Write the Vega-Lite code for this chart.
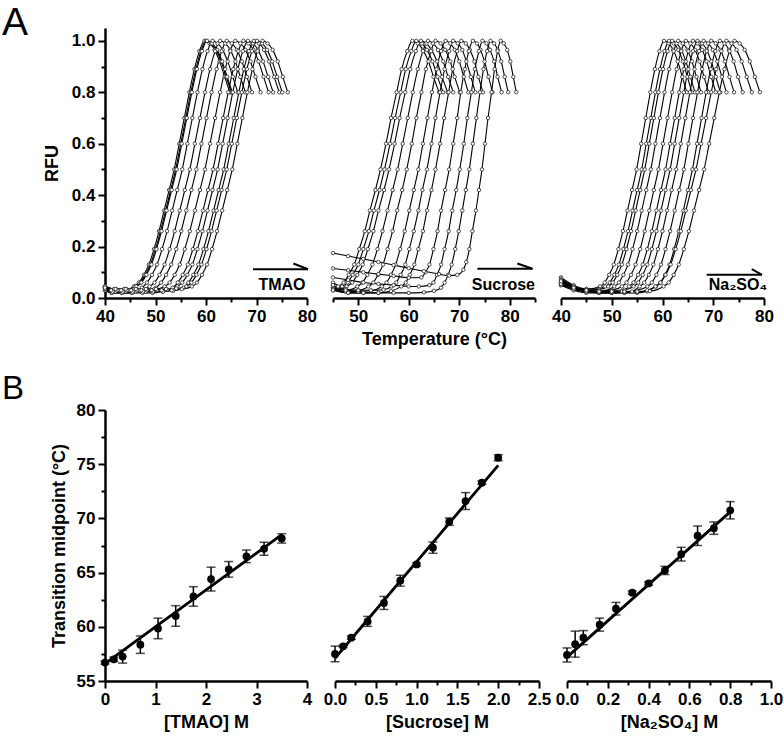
{
"$schema":"https://vega.github.io/schema/vega-lite/v6.json",
"background":"white",
"padding":{"left":2,"top":4,"right":2,"bottom":2},
"spacing":25,
"config":{"view":{"stroke":null},"font":"Liberation Sans",
 "axis":{"grid":false,"domain":true,"ticks":true,"domainColor":"#000000","domainWidth":2.5,"domainOpacity":1,"tickColor":"#000000","tickWidth":2,"tickOpacity":1,"tickSize":6,"labelFont":"Liberation Sans","labelFontSize":17,"labelFontWeight":"bold","labelColor":"black","titleFont":"Liberation Sans","titleFontSize":18,"titleFontWeight":"bold","titleColor":"black","labelPadding":3,"labelFlush":false,"labelOverlap":false,"labelBound":false,"zindex":2},
 "title":{"font":"Liberation Sans","fontWeight":"normal","color":"black","anchor":"start","frame":"group"}},
"datasets":{
"melt":[
{"p":"T","c":1,"t":40,"f":0.04},{"p":"T","c":1,"t":41.7,"f":0.03},{"p":"T","c":1,"t":43.7,"f":0.03},{"p":"T","c":1,"t":45.7,"f":0.045},{"p":"T","c":1,"t":46.7,"f":0.06},{"p":"T","c":1,"t":47.7,"f":0.09},{"p":"T","c":1,"t":48.7,"f":0.13},{"p":"T","c":1,"t":49.7,"f":0.19},{"p":"T","c":1,"t":50.7,"f":0.26},{"p":"T","c":1,"t":51.7,"f":0.34},{"p":"T","c":1,"t":52.7,"f":0.42},{"p":"T","c":1,"t":53.7,"f":0.5},{"p":"T","c":1,"t":54.7,"f":0.6},{"p":"T","c":1,"t":55.7,"f":0.7},{"p":"T","c":1,"t":56.7,"f":0.8},{"p":"T","c":1,"t":57.7,"f":0.89},{"p":"T","c":1,"t":58.7,"f":0.96},{"p":"T","c":1,"t":59.7,"f":1},{"p":"T","c":1,"t":60.7,"f":0.99},{"p":"T","c":1,"t":61.7,"f":0.965},{"p":"T","c":1,"t":62.7,"f":0.92},{"p":"T","c":1,"t":63.7,"f":0.86},{"p":"T","c":1,"t":64.7,"f":0.8},
{"p":"T","c":2,"t":40,"f":0.035},{"p":"T","c":2,"t":42,"f":0.025},{"p":"T","c":2,"t":44,"f":0.025},{"p":"T","c":2,"t":46,"f":0.045},{"p":"T","c":2,"t":47,"f":0.06},{"p":"T","c":2,"t":48,"f":0.09},{"p":"T","c":2,"t":49,"f":0.13},{"p":"T","c":2,"t":50,"f":0.19},{"p":"T","c":2,"t":51,"f":0.26},{"p":"T","c":2,"t":52,"f":0.34},{"p":"T","c":2,"t":53,"f":0.42},{"p":"T","c":2,"t":54,"f":0.5},{"p":"T","c":2,"t":55,"f":0.6},{"p":"T","c":2,"t":56,"f":0.7},{"p":"T","c":2,"t":57,"f":0.8},{"p":"T","c":2,"t":58,"f":0.89},{"p":"T","c":2,"t":59,"f":0.96},{"p":"T","c":2,"t":60,"f":1},{"p":"T","c":2,"t":61,"f":0.99},{"p":"T","c":2,"t":62,"f":0.965},{"p":"T","c":2,"t":63,"f":0.92},{"p":"T","c":2,"t":64,"f":0.86},{"p":"T","c":2,"t":65,"f":0.8},
{"p":"T","c":3,"t":40,"f":0.045},{"p":"T","c":3,"t":42.2,"f":0.035},{"p":"T","c":3,"t":44.2,"f":0.035},{"p":"T","c":3,"t":46.2,"f":0.045},{"p":"T","c":3,"t":47.2,"f":0.06},{"p":"T","c":3,"t":48.2,"f":0.09},{"p":"T","c":3,"t":49.2,"f":0.13},{"p":"T","c":3,"t":50.2,"f":0.19},{"p":"T","c":3,"t":51.2,"f":0.26},{"p":"T","c":3,"t":52.2,"f":0.34},{"p":"T","c":3,"t":53.2,"f":0.42},{"p":"T","c":3,"t":54.2,"f":0.5},{"p":"T","c":3,"t":55.2,"f":0.6},{"p":"T","c":3,"t":56.2,"f":0.7},{"p":"T","c":3,"t":57.2,"f":0.8},{"p":"T","c":3,"t":58.2,"f":0.89},{"p":"T","c":3,"t":59.2,"f":0.96},{"p":"T","c":3,"t":60.2,"f":1},{"p":"T","c":3,"t":61.2,"f":0.99},{"p":"T","c":3,"t":62.2,"f":0.965},{"p":"T","c":3,"t":63.2,"f":0.92},{"p":"T","c":3,"t":64.2,"f":0.86},{"p":"T","c":3,"t":65.2,"f":0.8},
{"p":"T","c":4,"t":40,"f":0.03},{"p":"T","c":4,"t":41.3,"f":0.02},{"p":"T","c":4,"t":43.3,"f":0.02},{"p":"T","c":4,"t":45.3,"f":0.02},{"p":"T","c":4,"t":47.3,"f":0.04},{"p":"T","c":4,"t":48.3,"f":0.06},{"p":"T","c":4,"t":49.3,"f":0.09},{"p":"T","c":4,"t":50.3,"f":0.13},{"p":"T","c":4,"t":51.3,"f":0.19},{"p":"T","c":4,"t":52.3,"f":0.26},{"p":"T","c":4,"t":53.3,"f":0.34},{"p":"T","c":4,"t":54.3,"f":0.42},{"p":"T","c":4,"t":55.3,"f":0.5},{"p":"T","c":4,"t":56.3,"f":0.6},{"p":"T","c":4,"t":57.3,"f":0.7},{"p":"T","c":4,"t":58.3,"f":0.8},{"p":"T","c":4,"t":59.3,"f":0.89},{"p":"T","c":4,"t":60.3,"f":0.96},{"p":"T","c":4,"t":61.3,"f":1},{"p":"T","c":4,"t":62.3,"f":0.99},{"p":"T","c":4,"t":63.3,"f":0.965},{"p":"T","c":4,"t":64.3,"f":0.92},{"p":"T","c":4,"t":65.3,"f":0.86},{"p":"T","c":4,"t":66.3,"f":0.8},
{"p":"T","c":5,"t":40,"f":0.04},{"p":"T","c":5,"t":42.8,"f":0.03},{"p":"T","c":5,"t":44.8,"f":0.03},{"p":"T","c":5,"t":46.8,"f":0.03},{"p":"T","c":5,"t":48.8,"f":0.045},{"p":"T","c":5,"t":49.8,"f":0.06},{"p":"T","c":5,"t":50.8,"f":0.09},{"p":"T","c":5,"t":51.8,"f":0.13},{"p":"T","c":5,"t":52.8,"f":0.19},{"p":"T","c":5,"t":53.8,"f":0.26},{"p":"T","c":5,"t":54.8,"f":0.34},{"p":"T","c":5,"t":55.8,"f":0.42},{"p":"T","c":5,"t":56.8,"f":0.5},{"p":"T","c":5,"t":57.8,"f":0.6},{"p":"T","c":5,"t":58.8,"f":0.7},{"p":"T","c":5,"t":59.8,"f":0.8},{"p":"T","c":5,"t":60.8,"f":0.89},{"p":"T","c":5,"t":61.8,"f":0.96},{"p":"T","c":5,"t":62.8,"f":1},{"p":"T","c":5,"t":63.8,"f":0.99},{"p":"T","c":5,"t":64.8,"f":0.965},{"p":"T","c":5,"t":65.8,"f":0.92},{"p":"T","c":5,"t":66.8,"f":0.86},{"p":"T","c":5,"t":67.8,"f":0.8},
{"p":"T","c":6,"t":40,"f":0.035},{"p":"T","c":6,"t":42.1,"f":0.025},{"p":"T","c":6,"t":44.1,"f":0.025},{"p":"T","c":6,"t":46.1,"f":0.025},{"p":"T","c":6,"t":48.1,"f":0.025},{"p":"T","c":6,"t":50.1,"f":0.04},{"p":"T","c":6,"t":51.1,"f":0.06},{"p":"T","c":6,"t":52.1,"f":0.09},{"p":"T","c":6,"t":53.1,"f":0.13},{"p":"T","c":6,"t":54.1,"f":0.19},{"p":"T","c":6,"t":55.1,"f":0.26},{"p":"T","c":6,"t":56.1,"f":0.34},{"p":"T","c":6,"t":57.1,"f":0.42},{"p":"T","c":6,"t":58.1,"f":0.5},{"p":"T","c":6,"t":59.1,"f":0.6},{"p":"T","c":6,"t":60.1,"f":0.7},{"p":"T","c":6,"t":61.1,"f":0.8},{"p":"T","c":6,"t":62.1,"f":0.89},{"p":"T","c":6,"t":63.1,"f":0.96},{"p":"T","c":6,"t":64.1,"f":1},{"p":"T","c":6,"t":65.1,"f":0.99},{"p":"T","c":6,"t":66.1,"f":0.965},{"p":"T","c":6,"t":67.1,"f":0.92},{"p":"T","c":6,"t":68.1,"f":0.86},{"p":"T","c":6,"t":69.1,"f":0.8},
{"p":"T","c":7,"t":40,"f":0.045},{"p":"T","c":7,"t":41.8,"f":0.035},{"p":"T","c":7,"t":43.8,"f":0.035},{"p":"T","c":7,"t":45.8,"f":0.035},{"p":"T","c":7,"t":47.8,"f":0.035},{"p":"T","c":7,"t":49.8,"f":0.035},{"p":"T","c":7,"t":51.8,"f":0.045},{"p":"T","c":7,"t":52.8,"f":0.06},{"p":"T","c":7,"t":53.8,"f":0.09},{"p":"T","c":7,"t":54.8,"f":0.13},{"p":"T","c":7,"t":55.8,"f":0.19},{"p":"T","c":7,"t":56.8,"f":0.26},{"p":"T","c":7,"t":57.8,"f":0.34},{"p":"T","c":7,"t":58.8,"f":0.42},{"p":"T","c":7,"t":59.8,"f":0.5},{"p":"T","c":7,"t":60.8,"f":0.6},{"p":"T","c":7,"t":61.8,"f":0.7},{"p":"T","c":7,"t":62.8,"f":0.8},{"p":"T","c":7,"t":63.8,"f":0.89},{"p":"T","c":7,"t":64.8,"f":0.96},{"p":"T","c":7,"t":65.8,"f":1},{"p":"T","c":7,"t":66.8,"f":0.99},{"p":"T","c":7,"t":67.8,"f":0.965},{"p":"T","c":7,"t":68.8,"f":0.92},{"p":"T","c":7,"t":69.8,"f":0.86},{"p":"T","c":7,"t":70.8,"f":0.8},
{"p":"T","c":8,"t":40,"f":0.03},{"p":"T","c":8,"t":41.4,"f":0.02},{"p":"T","c":8,"t":43.4,"f":0.02},{"p":"T","c":8,"t":45.4,"f":0.02},{"p":"T","c":8,"t":47.4,"f":0.02},{"p":"T","c":8,"t":49.4,"f":0.02},{"p":"T","c":8,"t":51.4,"f":0.025},{"p":"T","c":8,"t":53.4,"f":0.04},{"p":"T","c":8,"t":54.4,"f":0.06},{"p":"T","c":8,"t":55.4,"f":0.09},{"p":"T","c":8,"t":56.4,"f":0.13},{"p":"T","c":8,"t":57.4,"f":0.19},{"p":"T","c":8,"t":58.4,"f":0.26},{"p":"T","c":8,"t":59.4,"f":0.34},{"p":"T","c":8,"t":60.4,"f":0.42},{"p":"T","c":8,"t":61.4,"f":0.5},{"p":"T","c":8,"t":62.4,"f":0.6},{"p":"T","c":8,"t":63.4,"f":0.7},{"p":"T","c":8,"t":64.4,"f":0.8},{"p":"T","c":8,"t":65.4,"f":0.89},{"p":"T","c":8,"t":66.4,"f":0.96},{"p":"T","c":8,"t":67.4,"f":1},{"p":"T","c":8,"t":68.4,"f":0.99},{"p":"T","c":8,"t":69.4,"f":0.965},{"p":"T","c":8,"t":70.4,"f":0.92},{"p":"T","c":8,"t":71.4,"f":0.86},{"p":"T","c":8,"t":72.4,"f":0.8},
{"p":"T","c":9,"t":40,"f":0.04},{"p":"T","c":9,"t":42.3,"f":0.03},{"p":"T","c":9,"t":44.3,"f":0.03},{"p":"T","c":9,"t":46.3,"f":0.03},{"p":"T","c":9,"t":48.3,"f":0.03},{"p":"T","c":9,"t":50.3,"f":0.03},{"p":"T","c":9,"t":52.3,"f":0.033},{"p":"T","c":9,"t":54.3,"f":0.045},{"p":"T","c":9,"t":55.3,"f":0.06},{"p":"T","c":9,"t":56.3,"f":0.09},{"p":"T","c":9,"t":57.3,"f":0.13},{"p":"T","c":9,"t":58.3,"f":0.19},{"p":"T","c":9,"t":59.3,"f":0.26},{"p":"T","c":9,"t":60.3,"f":0.34},{"p":"T","c":9,"t":61.3,"f":0.42},{"p":"T","c":9,"t":62.3,"f":0.5},{"p":"T","c":9,"t":63.3,"f":0.6},{"p":"T","c":9,"t":64.3,"f":0.7},{"p":"T","c":9,"t":65.3,"f":0.8},{"p":"T","c":9,"t":66.3,"f":0.89},{"p":"T","c":9,"t":67.3,"f":0.96},{"p":"T","c":9,"t":68.3,"f":1},{"p":"T","c":9,"t":69.3,"f":0.99},{"p":"T","c":9,"t":70.3,"f":0.965},{"p":"T","c":9,"t":71.3,"f":0.92},{"p":"T","c":9,"t":72.3,"f":0.86},{"p":"T","c":9,"t":73.3,"f":0.8},
{"p":"T","c":10,"t":40,"f":0.035},{"p":"T","c":10,"t":41.5,"f":0.025},{"p":"T","c":10,"t":43.5,"f":0.025},{"p":"T","c":10,"t":45.5,"f":0.025},{"p":"T","c":10,"t":47.5,"f":0.025},{"p":"T","c":10,"t":49.5,"f":0.025},{"p":"T","c":10,"t":51.5,"f":0.025},{"p":"T","c":10,"t":53.5,"f":0.028},{"p":"T","c":10,"t":55.5,"f":0.04},{"p":"T","c":10,"t":56.5,"f":0.06},{"p":"T","c":10,"t":57.5,"f":0.09},{"p":"T","c":10,"t":58.5,"f":0.13},{"p":"T","c":10,"t":59.5,"f":0.19},{"p":"T","c":10,"t":60.5,"f":0.26},{"p":"T","c":10,"t":61.5,"f":0.34},{"p":"T","c":10,"t":62.5,"f":0.42},{"p":"T","c":10,"t":63.5,"f":0.5},{"p":"T","c":10,"t":64.5,"f":0.6},{"p":"T","c":10,"t":65.5,"f":0.7},{"p":"T","c":10,"t":66.5,"f":0.8},{"p":"T","c":10,"t":67.5,"f":0.89},{"p":"T","c":10,"t":68.5,"f":0.96},{"p":"T","c":10,"t":69.5,"f":1},{"p":"T","c":10,"t":70.5,"f":0.99},{"p":"T","c":10,"t":71.5,"f":0.965},{"p":"T","c":10,"t":72.5,"f":0.92},{"p":"T","c":10,"t":73.5,"f":0.86},{"p":"T","c":10,"t":74.5,"f":0.8},
{"p":"T","c":11,"t":40,"f":0.045},{"p":"T","c":11,"t":42.1,"f":0.035},{"p":"T","c":11,"t":44.1,"f":0.035},{"p":"T","c":11,"t":46.1,"f":0.035},{"p":"T","c":11,"t":48.1,"f":0.035},{"p":"T","c":11,"t":50.1,"f":0.035},{"p":"T","c":11,"t":52.1,"f":0.035},{"p":"T","c":11,"t":54.1,"f":0.037},{"p":"T","c":11,"t":56.1,"f":0.045},{"p":"T","c":11,"t":57.1,"f":0.06},{"p":"T","c":11,"t":58.1,"f":0.09},{"p":"T","c":11,"t":59.1,"f":0.13},{"p":"T","c":11,"t":60.1,"f":0.19},{"p":"T","c":11,"t":61.1,"f":0.26},{"p":"T","c":11,"t":62.1,"f":0.34},{"p":"T","c":11,"t":63.1,"f":0.42},{"p":"T","c":11,"t":64.1,"f":0.5},{"p":"T","c":11,"t":65.1,"f":0.6},{"p":"T","c":11,"t":66.1,"f":0.7},{"p":"T","c":11,"t":67.1,"f":0.8},{"p":"T","c":11,"t":68.1,"f":0.89},{"p":"T","c":11,"t":69.1,"f":0.96},{"p":"T","c":11,"t":70.1,"f":1},{"p":"T","c":11,"t":71.1,"f":0.99},{"p":"T","c":11,"t":72.1,"f":0.965},{"p":"T","c":11,"t":73.1,"f":0.92},{"p":"T","c":11,"t":74.1,"f":0.86},{"p":"T","c":11,"t":75.1,"f":0.8},
{"p":"T","c":12,"t":40,"f":0.04},{"p":"T","c":12,"t":41.2,"f":0.03},{"p":"T","c":12,"t":43.2,"f":0.03},{"p":"T","c":12,"t":45.2,"f":0.03},{"p":"T","c":12,"t":47.2,"f":0.03},{"p":"T","c":12,"t":49.2,"f":0.03},{"p":"T","c":12,"t":51.2,"f":0.03},{"p":"T","c":12,"t":53.2,"f":0.03},{"p":"T","c":12,"t":55.2,"f":0.034},{"p":"T","c":12,"t":57.2,"f":0.045},{"p":"T","c":12,"t":58.2,"f":0.06},{"p":"T","c":12,"t":59.2,"f":0.09},{"p":"T","c":12,"t":60.2,"f":0.13},{"p":"T","c":12,"t":61.2,"f":0.19},{"p":"T","c":12,"t":62.2,"f":0.26},{"p":"T","c":12,"t":63.2,"f":0.34},{"p":"T","c":12,"t":64.2,"f":0.42},{"p":"T","c":12,"t":65.2,"f":0.5},{"p":"T","c":12,"t":66.2,"f":0.6},{"p":"T","c":12,"t":67.2,"f":0.7},{"p":"T","c":12,"t":68.2,"f":0.8},{"p":"T","c":12,"t":69.2,"f":0.89},{"p":"T","c":12,"t":70.2,"f":0.96},{"p":"T","c":12,"t":71.2,"f":1},{"p":"T","c":12,"t":72.2,"f":0.99},{"p":"T","c":12,"t":73.2,"f":0.965},{"p":"T","c":12,"t":74.2,"f":0.92},{"p":"T","c":12,"t":75.2,"f":0.86},{"p":"T","c":12,"t":76.2,"f":0.8},
{"p":"S","c":1,"t":45,"f":0.04},{"p":"S","c":1,"t":46,"f":0.045},{"p":"S","c":1,"t":47.1,"f":0.06},{"p":"S","c":1,"t":48.1,"f":0.09},{"p":"S","c":1,"t":49.2,"f":0.13},{"p":"S","c":1,"t":50.2,"f":0.19},{"p":"S","c":1,"t":51.3,"f":0.26},{"p":"S","c":1,"t":52.3,"f":0.34},{"p":"S","c":1,"t":53.4,"f":0.42},{"p":"S","c":1,"t":54.4,"f":0.5},{"p":"S","c":1,"t":55.5,"f":0.6},{"p":"S","c":1,"t":56.5,"f":0.7},{"p":"S","c":1,"t":57.6,"f":0.8},{"p":"S","c":1,"t":58.6,"f":0.89},{"p":"S","c":1,"t":59.7,"f":0.96},{"p":"S","c":1,"t":60.7,"f":1},{"p":"S","c":1,"t":61.8,"f":0.99},{"p":"S","c":1,"t":62.8,"f":0.965},{"p":"S","c":1,"t":63.9,"f":0.92},{"p":"S","c":1,"t":64.9,"f":0.86},{"p":"S","c":1,"t":66,"f":0.8},
{"p":"S","c":2,"t":45,"f":0.035},{"p":"S","c":2,"t":46.8,"f":0.045},{"p":"S","c":2,"t":47.9,"f":0.06},{"p":"S","c":2,"t":48.9,"f":0.09},{"p":"S","c":2,"t":50,"f":0.13},{"p":"S","c":2,"t":51,"f":0.19},{"p":"S","c":2,"t":52.1,"f":0.26},{"p":"S","c":2,"t":53.1,"f":0.34},{"p":"S","c":2,"t":54.2,"f":0.42},{"p":"S","c":2,"t":55.2,"f":0.5},{"p":"S","c":2,"t":56.3,"f":0.6},{"p":"S","c":2,"t":57.3,"f":0.7},{"p":"S","c":2,"t":58.4,"f":0.8},{"p":"S","c":2,"t":59.4,"f":0.89},{"p":"S","c":2,"t":60.5,"f":0.96},{"p":"S","c":2,"t":61.5,"f":1},{"p":"S","c":2,"t":62.6,"f":0.99},{"p":"S","c":2,"t":63.6,"f":0.965},{"p":"S","c":2,"t":64.7,"f":0.92},{"p":"S","c":2,"t":65.7,"f":0.86},{"p":"S","c":2,"t":66.8,"f":0.8},
{"p":"S","c":3,"t":45,"f":0.03},{"p":"S","c":3,"t":47.7,"f":0.045},{"p":"S","c":3,"t":48.8,"f":0.06},{"p":"S","c":3,"t":49.8,"f":0.09},{"p":"S","c":3,"t":50.9,"f":0.13},{"p":"S","c":3,"t":51.9,"f":0.19},{"p":"S","c":3,"t":53,"f":0.26},{"p":"S","c":3,"t":54,"f":0.34},{"p":"S","c":3,"t":55.1,"f":0.42},{"p":"S","c":3,"t":56.1,"f":0.5},{"p":"S","c":3,"t":57.2,"f":0.6},{"p":"S","c":3,"t":58.2,"f":0.7},{"p":"S","c":3,"t":59.3,"f":0.8},{"p":"S","c":3,"t":60.3,"f":0.89},{"p":"S","c":3,"t":61.4,"f":0.96},{"p":"S","c":3,"t":62.4,"f":1},{"p":"S","c":3,"t":63.5,"f":0.99},{"p":"S","c":3,"t":64.5,"f":0.965},{"p":"S","c":3,"t":65.6,"f":0.92},{"p":"S","c":3,"t":66.6,"f":0.86},{"p":"S","c":3,"t":67.7,"f":0.8},
{"p":"S","c":4,"t":45,"f":0.05},{"p":"S","c":4,"t":47.5,"f":0.03},{"p":"S","c":4,"t":49.8,"f":0.045},{"p":"S","c":4,"t":50.8,"f":0.06},{"p":"S","c":4,"t":51.8,"f":0.09},{"p":"S","c":4,"t":52.8,"f":0.13},{"p":"S","c":4,"t":53.8,"f":0.19},{"p":"S","c":4,"t":54.8,"f":0.26},{"p":"S","c":4,"t":55.8,"f":0.34},{"p":"S","c":4,"t":56.8,"f":0.42},{"p":"S","c":4,"t":57.8,"f":0.5},{"p":"S","c":4,"t":58.8,"f":0.6},{"p":"S","c":4,"t":59.8,"f":0.7},{"p":"S","c":4,"t":60.8,"f":0.8},{"p":"S","c":4,"t":61.8,"f":0.89},{"p":"S","c":4,"t":62.8,"f":0.96},{"p":"S","c":4,"t":63.8,"f":1},{"p":"S","c":4,"t":64.8,"f":0.99},{"p":"S","c":4,"t":65.8,"f":0.965},{"p":"S","c":4,"t":66.8,"f":0.92},{"p":"S","c":4,"t":67.8,"f":0.86},{"p":"S","c":4,"t":68.8,"f":0.8},
{"p":"S","c":5,"t":45,"f":0.06},{"p":"S","c":5,"t":47.5,"f":0.035},{"p":"S","c":5,"t":50,"f":0.03},{"p":"S","c":5,"t":52,"f":0.045},{"p":"S","c":5,"t":53,"f":0.06},{"p":"S","c":5,"t":53.9,"f":0.09},{"p":"S","c":5,"t":54.9,"f":0.13},{"p":"S","c":5,"t":55.8,"f":0.19},{"p":"S","c":5,"t":56.8,"f":0.26},{"p":"S","c":5,"t":57.7,"f":0.34},{"p":"S","c":5,"t":58.7,"f":0.42},{"p":"S","c":5,"t":59.6,"f":0.5},{"p":"S","c":5,"t":60.6,"f":0.6},{"p":"S","c":5,"t":61.5,"f":0.7},{"p":"S","c":5,"t":62.5,"f":0.8},{"p":"S","c":5,"t":63.4,"f":0.89},{"p":"S","c":5,"t":64.4,"f":0.96},{"p":"S","c":5,"t":65.3,"f":1},{"p":"S","c":5,"t":66.3,"f":0.99},{"p":"S","c":5,"t":67.2,"f":0.965},{"p":"S","c":5,"t":68.2,"f":0.92},{"p":"S","c":5,"t":69.1,"f":0.86},{"p":"S","c":5,"t":70.1,"f":0.8},
{"p":"S","c":6,"t":45,"f":0.04},{"p":"S","c":6,"t":47.5,"f":0.025},{"p":"S","c":6,"t":50,"f":0.025},{"p":"S","c":6,"t":52.5,"f":0.028},{"p":"S","c":6,"t":54.7,"f":0.045},{"p":"S","c":6,"t":55.6,"f":0.06},{"p":"S","c":6,"t":56.5,"f":0.09},{"p":"S","c":6,"t":57.4,"f":0.13},{"p":"S","c":6,"t":58.3,"f":0.19},{"p":"S","c":6,"t":59.2,"f":0.26},{"p":"S","c":6,"t":60.1,"f":0.34},{"p":"S","c":6,"t":61,"f":0.42},{"p":"S","c":6,"t":61.9,"f":0.5},{"p":"S","c":6,"t":62.8,"f":0.6},{"p":"S","c":6,"t":63.7,"f":0.7},{"p":"S","c":6,"t":64.6,"f":0.8},{"p":"S","c":6,"t":65.5,"f":0.89},{"p":"S","c":6,"t":66.4,"f":0.96},{"p":"S","c":6,"t":67.3,"f":1},{"p":"S","c":6,"t":68.2,"f":0.99},{"p":"S","c":6,"t":69.1,"f":0.965},{"p":"S","c":6,"t":70,"f":0.92},{"p":"S","c":6,"t":70.9,"f":0.86},{"p":"S","c":6,"t":71.8,"f":0.8},
{"p":"S","c":7,"t":45,"f":0.05},{"p":"S","c":7,"t":47.5,"f":0.03},{"p":"S","c":7,"t":50,"f":0.03},{"p":"S","c":7,"t":52.5,"f":0.03},{"p":"S","c":7,"t":55,"f":0.032},{"p":"S","c":7,"t":56.6,"f":0.045},{"p":"S","c":7,"t":57.5,"f":0.06},{"p":"S","c":7,"t":58.4,"f":0.09},{"p":"S","c":7,"t":59.3,"f":0.13},{"p":"S","c":7,"t":60.1,"f":0.19},{"p":"S","c":7,"t":61,"f":0.26},{"p":"S","c":7,"t":61.9,"f":0.34},{"p":"S","c":7,"t":62.7,"f":0.42},{"p":"S","c":7,"t":63.6,"f":0.5},{"p":"S","c":7,"t":64.5,"f":0.6},{"p":"S","c":7,"t":65.3,"f":0.7},{"p":"S","c":7,"t":66.2,"f":0.8},{"p":"S","c":7,"t":67.1,"f":0.89},{"p":"S","c":7,"t":68,"f":0.96},{"p":"S","c":7,"t":68.8,"f":1},{"p":"S","c":7,"t":69.7,"f":0.99},{"p":"S","c":7,"t":70.6,"f":0.965},{"p":"S","c":7,"t":71.4,"f":0.92},{"p":"S","c":7,"t":72.3,"f":0.86},{"p":"S","c":7,"t":73.2,"f":0.8},
{"p":"S","c":8,"t":45,"f":0.035},{"p":"S","c":8,"t":48,"f":0.02},{"p":"S","c":8,"t":51,"f":0.02},{"p":"S","c":8,"t":54,"f":0.02},{"p":"S","c":8,"t":56.5,"f":0.027},{"p":"S","c":8,"t":58.5,"f":0.045},{"p":"S","c":8,"t":59.4,"f":0.06},{"p":"S","c":8,"t":60.2,"f":0.09},{"p":"S","c":8,"t":61.1,"f":0.13},{"p":"S","c":8,"t":61.9,"f":0.19},{"p":"S","c":8,"t":62.8,"f":0.26},{"p":"S","c":8,"t":63.6,"f":0.34},{"p":"S","c":8,"t":64.5,"f":0.42},{"p":"S","c":8,"t":65.3,"f":0.5},{"p":"S","c":8,"t":66.2,"f":0.6},{"p":"S","c":8,"t":67,"f":0.7},{"p":"S","c":8,"t":67.9,"f":0.8},{"p":"S","c":8,"t":68.7,"f":0.89},{"p":"S","c":8,"t":69.6,"f":0.96},{"p":"S","c":8,"t":70.4,"f":1},{"p":"S","c":8,"t":71.3,"f":0.99},{"p":"S","c":8,"t":72.1,"f":0.965},{"p":"S","c":8,"t":73,"f":0.92},{"p":"S","c":8,"t":73.8,"f":0.86},{"p":"S","c":8,"t":74.7,"f":0.8},
{"p":"S","c":9,"t":45,"f":0.115},{"p":"S","c":9,"t":48,"f":0.108},{"p":"S","c":9,"t":51,"f":0.1},{"p":"S","c":9,"t":54,"f":0.093},{"p":"S","c":9,"t":57,"f":0.086},{"p":"S","c":9,"t":60,"f":0.079},{"p":"S","c":9,"t":62.5,"f":0.08},{"p":"S","c":9,"t":63.3,"f":0.1},{"p":"S","c":9,"t":64.1,"f":0.13},{"p":"S","c":9,"t":64.9,"f":0.19},{"p":"S","c":9,"t":65.7,"f":0.26},{"p":"S","c":9,"t":66.4,"f":0.34},{"p":"S","c":9,"t":67.2,"f":0.42},{"p":"S","c":9,"t":68,"f":0.5},{"p":"S","c":9,"t":68.8,"f":0.6},{"p":"S","c":9,"t":69.6,"f":0.7},{"p":"S","c":9,"t":70.3,"f":0.8},{"p":"S","c":9,"t":71.1,"f":0.89},{"p":"S","c":9,"t":71.9,"f":0.96},{"p":"S","c":9,"t":72.7,"f":1},{"p":"S","c":9,"t":73.5,"f":0.99},{"p":"S","c":9,"t":74.2,"f":0.965},{"p":"S","c":9,"t":75,"f":0.92},{"p":"S","c":9,"t":75.8,"f":0.86},{"p":"S","c":9,"t":76.6,"f":0.8},
{"p":"S","c":10,"t":45,"f":0.08},{"p":"S","c":10,"t":48,"f":0.07},{"p":"S","c":10,"t":51,"f":0.06},{"p":"S","c":10,"t":54,"f":0.055},{"p":"S","c":10,"t":57,"f":0.05},{"p":"S","c":10,"t":60,"f":0.045},{"p":"S","c":10,"t":62,"f":0.045},{"p":"S","c":10,"t":64.1,"f":0.05},{"p":"S","c":10,"t":64.9,"f":0.06},{"p":"S","c":10,"t":65.6,"f":0.09},{"p":"S","c":10,"t":66.4,"f":0.13},{"p":"S","c":10,"t":67.1,"f":0.19},{"p":"S","c":10,"t":67.9,"f":0.26},{"p":"S","c":10,"t":68.6,"f":0.34},{"p":"S","c":10,"t":69.4,"f":0.42},{"p":"S","c":10,"t":70.1,"f":0.5},{"p":"S","c":10,"t":70.9,"f":0.6},{"p":"S","c":10,"t":71.6,"f":0.7},{"p":"S","c":10,"t":72.4,"f":0.8},{"p":"S","c":10,"t":73.1,"f":0.89},{"p":"S","c":10,"t":73.9,"f":0.96},{"p":"S","c":10,"t":74.6,"f":1},{"p":"S","c":10,"t":75.4,"f":0.99},{"p":"S","c":10,"t":76.1,"f":0.965},{"p":"S","c":10,"t":76.9,"f":0.92},{"p":"S","c":10,"t":77.6,"f":0.86},{"p":"S","c":10,"t":78.4,"f":0.8},
{"p":"S","c":11,"t":45,"f":0.03},{"p":"S","c":11,"t":48,"f":0.02},{"p":"S","c":11,"t":51,"f":0.02},{"p":"S","c":11,"t":54,"f":0.02},{"p":"S","c":11,"t":57,"f":0.02},{"p":"S","c":11,"t":60,"f":0.02},{"p":"S","c":11,"t":63,"f":0.022},{"p":"S","c":11,"t":65,"f":0.028},{"p":"S","c":11,"t":66.4,"f":0.04},{"p":"S","c":11,"t":67.1,"f":0.06},{"p":"S","c":11,"t":67.8,"f":0.09},{"p":"S","c":11,"t":68.5,"f":0.13},{"p":"S","c":11,"t":69.2,"f":0.19},{"p":"S","c":11,"t":69.9,"f":0.26},{"p":"S","c":11,"t":70.6,"f":0.34},{"p":"S","c":11,"t":71.3,"f":0.42},{"p":"S","c":11,"t":72,"f":0.5},{"p":"S","c":11,"t":72.7,"f":0.6},{"p":"S","c":11,"t":73.4,"f":0.7},{"p":"S","c":11,"t":74.1,"f":0.8},{"p":"S","c":11,"t":74.8,"f":0.89},{"p":"S","c":11,"t":75.5,"f":0.96},{"p":"S","c":11,"t":76.2,"f":1},{"p":"S","c":11,"t":76.9,"f":0.99},{"p":"S","c":11,"t":77.6,"f":0.965},{"p":"S","c":11,"t":78.3,"f":0.92},{"p":"S","c":11,"t":79,"f":0.86},{"p":"S","c":11,"t":79.7,"f":0.8},
{"p":"S","c":12,"t":45,"f":0.175},{"p":"S","c":12,"t":48,"f":0.163},{"p":"S","c":12,"t":51,"f":0.152},{"p":"S","c":12,"t":54,"f":0.14},{"p":"S","c":12,"t":57,"f":0.128},{"p":"S","c":12,"t":60,"f":0.116},{"p":"S","c":12,"t":63,"f":0.104},{"p":"S","c":12,"t":66,"f":0.093},{"p":"S","c":12,"t":68,"f":0.087},{"p":"S","c":12,"t":69.6,"f":0.09},{"p":"S","c":12,"t":70.8,"f":0.11},{"p":"S","c":12,"t":71.4,"f":0.14},{"p":"S","c":12,"t":72,"f":0.19},{"p":"S","c":12,"t":72.6,"f":0.26},{"p":"S","c":12,"t":73.3,"f":0.34},{"p":"S","c":12,"t":73.9,"f":0.42},{"p":"S","c":12,"t":74.5,"f":0.5},{"p":"S","c":12,"t":75.1,"f":0.6},{"p":"S","c":12,"t":75.7,"f":0.7},{"p":"S","c":12,"t":76.4,"f":0.8},{"p":"S","c":12,"t":77,"f":0.89},{"p":"S","c":12,"t":77.6,"f":0.96},{"p":"S","c":12,"t":78.2,"f":1},{"p":"S","c":12,"t":78.8,"f":0.99},{"p":"S","c":12,"t":79.5,"f":0.965},{"p":"S","c":12,"t":80.1,"f":0.92},{"p":"S","c":12,"t":80.7,"f":0.86},{"p":"S","c":12,"t":81.3,"f":0.8},
{"p":"N","c":1,"t":40,"f":0.07},{"p":"N","c":1,"t":42.5,"f":0.045},{"p":"N","c":1,"t":45,"f":0.035},{"p":"N","c":1,"t":47.7,"f":0.045},{"p":"N","c":1,"t":48.6,"f":0.06},{"p":"N","c":1,"t":49.5,"f":0.09},{"p":"N","c":1,"t":50.4,"f":0.13},{"p":"N","c":1,"t":51.3,"f":0.19},{"p":"N","c":1,"t":52.2,"f":0.26},{"p":"N","c":1,"t":53.1,"f":0.34},{"p":"N","c":1,"t":54,"f":0.42},{"p":"N","c":1,"t":54.9,"f":0.5},{"p":"N","c":1,"t":55.8,"f":0.6},{"p":"N","c":1,"t":56.7,"f":0.7},{"p":"N","c":1,"t":57.6,"f":0.8},{"p":"N","c":1,"t":58.5,"f":0.89},{"p":"N","c":1,"t":59.4,"f":0.96},{"p":"N","c":1,"t":60.3,"f":1},{"p":"N","c":1,"t":61.2,"f":0.99},{"p":"N","c":1,"t":62.1,"f":0.965},{"p":"N","c":1,"t":63,"f":0.92},{"p":"N","c":1,"t":63.9,"f":0.86},{"p":"N","c":1,"t":64.8,"f":0.8},
{"p":"N","c":2,"t":40,"f":0.06},{"p":"N","c":2,"t":42.5,"f":0.04},{"p":"N","c":2,"t":45,"f":0.03},{"p":"N","c":2,"t":48.7,"f":0.045},{"p":"N","c":2,"t":49.6,"f":0.06},{"p":"N","c":2,"t":50.5,"f":0.09},{"p":"N","c":2,"t":51.4,"f":0.13},{"p":"N","c":2,"t":52.3,"f":0.19},{"p":"N","c":2,"t":53.2,"f":0.26},{"p":"N","c":2,"t":54.1,"f":0.34},{"p":"N","c":2,"t":55,"f":0.42},{"p":"N","c":2,"t":55.9,"f":0.5},{"p":"N","c":2,"t":56.8,"f":0.6},{"p":"N","c":2,"t":57.7,"f":0.7},{"p":"N","c":2,"t":58.6,"f":0.8},{"p":"N","c":2,"t":59.5,"f":0.89},{"p":"N","c":2,"t":60.4,"f":0.96},{"p":"N","c":2,"t":61.3,"f":1},{"p":"N","c":2,"t":62.2,"f":0.99},{"p":"N","c":2,"t":63.1,"f":0.965},{"p":"N","c":2,"t":64,"f":0.92},{"p":"N","c":2,"t":64.9,"f":0.86},{"p":"N","c":2,"t":65.8,"f":0.8},
{"p":"N","c":3,"t":40,"f":0.08},{"p":"N","c":3,"t":42.5,"f":0.05},{"p":"N","c":3,"t":45,"f":0.035},{"p":"N","c":3,"t":47.5,"f":0.035},{"p":"N","c":3,"t":49.3,"f":0.045},{"p":"N","c":3,"t":50.2,"f":0.06},{"p":"N","c":3,"t":51.1,"f":0.09},{"p":"N","c":3,"t":52,"f":0.13},{"p":"N","c":3,"t":52.9,"f":0.19},{"p":"N","c":3,"t":53.8,"f":0.26},{"p":"N","c":3,"t":54.7,"f":0.34},{"p":"N","c":3,"t":55.6,"f":0.42},{"p":"N","c":3,"t":56.5,"f":0.5},{"p":"N","c":3,"t":57.4,"f":0.6},{"p":"N","c":3,"t":58.3,"f":0.7},{"p":"N","c":3,"t":59.2,"f":0.8},{"p":"N","c":3,"t":60.1,"f":0.89},{"p":"N","c":3,"t":61,"f":0.96},{"p":"N","c":3,"t":61.9,"f":1},{"p":"N","c":3,"t":62.8,"f":0.99},{"p":"N","c":3,"t":63.7,"f":0.965},{"p":"N","c":3,"t":64.6,"f":0.92},{"p":"N","c":3,"t":65.5,"f":0.86},{"p":"N","c":3,"t":66.4,"f":0.8},
{"p":"N","c":4,"t":40,"f":0.05},{"p":"N","c":4,"t":42.5,"f":0.035},{"p":"N","c":4,"t":45,"f":0.025},{"p":"N","c":4,"t":47.5,"f":0.025},{"p":"N","c":4,"t":50.5,"f":0.045},{"p":"N","c":4,"t":51.4,"f":0.06},{"p":"N","c":4,"t":52.3,"f":0.09},{"p":"N","c":4,"t":53.2,"f":0.13},{"p":"N","c":4,"t":54.1,"f":0.19},{"p":"N","c":4,"t":55,"f":0.26},{"p":"N","c":4,"t":55.9,"f":0.34},{"p":"N","c":4,"t":56.8,"f":0.42},{"p":"N","c":4,"t":57.7,"f":0.5},{"p":"N","c":4,"t":58.6,"f":0.6},{"p":"N","c":4,"t":59.5,"f":0.7},{"p":"N","c":4,"t":60.4,"f":0.8},{"p":"N","c":4,"t":61.3,"f":0.89},{"p":"N","c":4,"t":62.2,"f":0.96},{"p":"N","c":4,"t":63.1,"f":1},{"p":"N","c":4,"t":64,"f":0.99},{"p":"N","c":4,"t":64.9,"f":0.965},{"p":"N","c":4,"t":65.8,"f":0.92},{"p":"N","c":4,"t":66.7,"f":0.86},{"p":"N","c":4,"t":67.6,"f":0.8},
{"p":"N","c":5,"t":40,"f":0.065},{"p":"N","c":5,"t":42.5,"f":0.04},{"p":"N","c":5,"t":45,"f":0.03},{"p":"N","c":5,"t":47.5,"f":0.025},{"p":"N","c":5,"t":50,"f":0.03},{"p":"N","c":5,"t":52,"f":0.045},{"p":"N","c":5,"t":52.9,"f":0.06},{"p":"N","c":5,"t":53.8,"f":0.09},{"p":"N","c":5,"t":54.7,"f":0.13},{"p":"N","c":5,"t":55.6,"f":0.19},{"p":"N","c":5,"t":56.5,"f":0.26},{"p":"N","c":5,"t":57.4,"f":0.34},{"p":"N","c":5,"t":58.3,"f":0.42},{"p":"N","c":5,"t":59.2,"f":0.5},{"p":"N","c":5,"t":60.1,"f":0.6},{"p":"N","c":5,"t":61,"f":0.7},{"p":"N","c":5,"t":61.9,"f":0.8},{"p":"N","c":5,"t":62.8,"f":0.89},{"p":"N","c":5,"t":63.7,"f":0.96},{"p":"N","c":5,"t":64.6,"f":1},{"p":"N","c":5,"t":65.5,"f":0.99},{"p":"N","c":5,"t":66.4,"f":0.965},{"p":"N","c":5,"t":67.3,"f":0.92},{"p":"N","c":5,"t":68.2,"f":0.86},{"p":"N","c":5,"t":69.1,"f":0.8},
{"p":"N","c":6,"t":40,"f":0.055},{"p":"N","c":6,"t":42.5,"f":0.035},{"p":"N","c":6,"t":45,"f":0.025},{"p":"N","c":6,"t":47.5,"f":0.02},{"p":"N","c":6,"t":50,"f":0.02},{"p":"N","c":6,"t":52,"f":0.025},{"p":"N","c":6,"t":53.4,"f":0.045},{"p":"N","c":6,"t":54.3,"f":0.06},{"p":"N","c":6,"t":55.2,"f":0.09},{"p":"N","c":6,"t":56.1,"f":0.13},{"p":"N","c":6,"t":57,"f":0.19},{"p":"N","c":6,"t":57.9,"f":0.26},{"p":"N","c":6,"t":58.8,"f":0.34},{"p":"N","c":6,"t":59.7,"f":0.42},{"p":"N","c":6,"t":60.6,"f":0.5},{"p":"N","c":6,"t":61.5,"f":0.6},{"p":"N","c":6,"t":62.4,"f":0.7},{"p":"N","c":6,"t":63.3,"f":0.8},{"p":"N","c":6,"t":64.2,"f":0.89},{"p":"N","c":6,"t":65.1,"f":0.96},{"p":"N","c":6,"t":66,"f":1},{"p":"N","c":6,"t":66.9,"f":0.99},{"p":"N","c":6,"t":67.8,"f":0.965},{"p":"N","c":6,"t":68.7,"f":0.92},{"p":"N","c":6,"t":69.6,"f":0.86},{"p":"N","c":6,"t":70.5,"f":0.8},
{"p":"N","c":7,"t":40,"f":0.075},{"p":"N","c":7,"t":42.5,"f":0.045},{"p":"N","c":7,"t":45,"f":0.03},{"p":"N","c":7,"t":47.5,"f":0.03},{"p":"N","c":7,"t":50,"f":0.03},{"p":"N","c":7,"t":52.5,"f":0.032},{"p":"N","c":7,"t":54.3,"f":0.045},{"p":"N","c":7,"t":55.2,"f":0.06},{"p":"N","c":7,"t":56.1,"f":0.09},{"p":"N","c":7,"t":57,"f":0.13},{"p":"N","c":7,"t":57.9,"f":0.19},{"p":"N","c":7,"t":58.8,"f":0.26},{"p":"N","c":7,"t":59.7,"f":0.34},{"p":"N","c":7,"t":60.6,"f":0.42},{"p":"N","c":7,"t":61.5,"f":0.5},{"p":"N","c":7,"t":62.4,"f":0.6},{"p":"N","c":7,"t":63.3,"f":0.7},{"p":"N","c":7,"t":64.2,"f":0.8},{"p":"N","c":7,"t":65.1,"f":0.89},{"p":"N","c":7,"t":66,"f":0.96},{"p":"N","c":7,"t":66.9,"f":1},{"p":"N","c":7,"t":67.8,"f":0.99},{"p":"N","c":7,"t":68.7,"f":0.965},{"p":"N","c":7,"t":69.6,"f":0.92},{"p":"N","c":7,"t":70.5,"f":0.86},{"p":"N","c":7,"t":71.4,"f":0.8},
{"p":"N","c":8,"t":40,"f":0.05},{"p":"N","c":8,"t":42.5,"f":0.03},{"p":"N","c":8,"t":45,"f":0.02},{"p":"N","c":8,"t":47.5,"f":0.02},{"p":"N","c":8,"t":50,"f":0.02},{"p":"N","c":8,"t":52.5,"f":0.02},{"p":"N","c":8,"t":54,"f":0.025},{"p":"N","c":8,"t":55.5,"f":0.045},{"p":"N","c":8,"t":56.4,"f":0.06},{"p":"N","c":8,"t":57.3,"f":0.09},{"p":"N","c":8,"t":58.2,"f":0.13},{"p":"N","c":8,"t":59.1,"f":0.19},{"p":"N","c":8,"t":60,"f":0.26},{"p":"N","c":8,"t":60.9,"f":0.34},{"p":"N","c":8,"t":61.8,"f":0.42},{"p":"N","c":8,"t":62.7,"f":0.5},{"p":"N","c":8,"t":63.6,"f":0.6},{"p":"N","c":8,"t":64.5,"f":0.7},{"p":"N","c":8,"t":65.4,"f":0.8},{"p":"N","c":8,"t":66.3,"f":0.89},{"p":"N","c":8,"t":67.2,"f":0.96},{"p":"N","c":8,"t":68.1,"f":1},{"p":"N","c":8,"t":69,"f":0.99},{"p":"N","c":8,"t":69.9,"f":0.965},{"p":"N","c":8,"t":70.8,"f":0.92},{"p":"N","c":8,"t":71.7,"f":0.86},{"p":"N","c":8,"t":72.6,"f":0.8},
{"p":"N","c":9,"t":40,"f":0.06},{"p":"N","c":9,"t":42.5,"f":0.04},{"p":"N","c":9,"t":45,"f":0.03},{"p":"N","c":9,"t":47.5,"f":0.025},{"p":"N","c":9,"t":50,"f":0.025},{"p":"N","c":9,"t":52.5,"f":0.025},{"p":"N","c":9,"t":55,"f":0.03},{"p":"N","c":9,"t":57,"f":0.045},{"p":"N","c":9,"t":57.9,"f":0.06},{"p":"N","c":9,"t":58.8,"f":0.09},{"p":"N","c":9,"t":59.7,"f":0.13},{"p":"N","c":9,"t":60.6,"f":0.19},{"p":"N","c":9,"t":61.5,"f":0.26},{"p":"N","c":9,"t":62.4,"f":0.34},{"p":"N","c":9,"t":63.3,"f":0.42},{"p":"N","c":9,"t":64.2,"f":0.5},{"p":"N","c":9,"t":65.1,"f":0.6},{"p":"N","c":9,"t":66,"f":0.7},{"p":"N","c":9,"t":66.9,"f":0.8},{"p":"N","c":9,"t":67.8,"f":0.89},{"p":"N","c":9,"t":68.7,"f":0.96},{"p":"N","c":9,"t":69.6,"f":1},{"p":"N","c":9,"t":70.5,"f":0.99},{"p":"N","c":9,"t":71.4,"f":0.965},{"p":"N","c":9,"t":72.3,"f":0.92},{"p":"N","c":9,"t":73.2,"f":0.86},{"p":"N","c":9,"t":74.1,"f":0.8},
{"p":"N","c":10,"t":40,"f":0.07},{"p":"N","c":10,"t":42.5,"f":0.04},{"p":"N","c":10,"t":45,"f":0.025},{"p":"N","c":10,"t":47.5,"f":0.02},{"p":"N","c":10,"t":50,"f":0.02},{"p":"N","c":10,"t":52.5,"f":0.02},{"p":"N","c":10,"t":55,"f":0.02},{"p":"N","c":10,"t":57,"f":0.026},{"p":"N","c":10,"t":58.7,"f":0.045},{"p":"N","c":10,"t":59.6,"f":0.06},{"p":"N","c":10,"t":60.5,"f":0.09},{"p":"N","c":10,"t":61.4,"f":0.13},{"p":"N","c":10,"t":62.3,"f":0.19},{"p":"N","c":10,"t":63.2,"f":0.26},{"p":"N","c":10,"t":64.1,"f":0.34},{"p":"N","c":10,"t":65,"f":0.42},{"p":"N","c":10,"t":65.9,"f":0.5},{"p":"N","c":10,"t":66.8,"f":0.6},{"p":"N","c":10,"t":67.7,"f":0.7},{"p":"N","c":10,"t":68.6,"f":0.8},{"p":"N","c":10,"t":69.5,"f":0.89},{"p":"N","c":10,"t":70.4,"f":0.96},{"p":"N","c":10,"t":71.3,"f":1},{"p":"N","c":10,"t":72.2,"f":0.99},{"p":"N","c":10,"t":73.1,"f":0.965},{"p":"N","c":10,"t":74,"f":0.92},{"p":"N","c":10,"t":74.9,"f":0.86},{"p":"N","c":10,"t":75.8,"f":0.8},
{"p":"N","c":11,"t":40,"f":0.055},{"p":"N","c":11,"t":42.5,"f":0.035},{"p":"N","c":11,"t":45,"f":0.025},{"p":"N","c":11,"t":47.5,"f":0.025},{"p":"N","c":11,"t":50,"f":0.025},{"p":"N","c":11,"t":52.5,"f":0.025},{"p":"N","c":11,"t":55,"f":0.025},{"p":"N","c":11,"t":57,"f":0.03},{"p":"N","c":11,"t":58.6,"f":0.045},{"p":"N","c":11,"t":59.6,"f":0.06},{"p":"N","c":11,"t":60.6,"f":0.09},{"p":"N","c":11,"t":61.6,"f":0.13},{"p":"N","c":11,"t":62.6,"f":0.19},{"p":"N","c":11,"t":63.6,"f":0.26},{"p":"N","c":11,"t":64.6,"f":0.34},{"p":"N","c":11,"t":65.6,"f":0.42},{"p":"N","c":11,"t":66.6,"f":0.5},{"p":"N","c":11,"t":67.6,"f":0.6},{"p":"N","c":11,"t":68.6,"f":0.7},{"p":"N","c":11,"t":69.6,"f":0.8},{"p":"N","c":11,"t":70.6,"f":0.89},{"p":"N","c":11,"t":71.6,"f":0.96},{"p":"N","c":11,"t":72.6,"f":1},{"p":"N","c":11,"t":73.6,"f":0.99},{"p":"N","c":11,"t":74.6,"f":0.965},{"p":"N","c":11,"t":75.6,"f":0.92},{"p":"N","c":11,"t":76.6,"f":0.86},{"p":"N","c":11,"t":77.6,"f":0.8},
{"p":"N","c":12,"t":40,"f":0.065},{"p":"N","c":12,"t":42.5,"f":0.04},{"p":"N","c":12,"t":45,"f":0.03},{"p":"N","c":12,"t":47.5,"f":0.025},{"p":"N","c":12,"t":50,"f":0.025},{"p":"N","c":12,"t":52.5,"f":0.025},{"p":"N","c":12,"t":55,"f":0.025},{"p":"N","c":12,"t":57.5,"f":0.027},{"p":"N","c":12,"t":60.2,"f":0.045},{"p":"N","c":12,"t":61.2,"f":0.06},{"p":"N","c":12,"t":62.2,"f":0.09},{"p":"N","c":12,"t":63.2,"f":0.13},{"p":"N","c":12,"t":64.2,"f":0.19},{"p":"N","c":12,"t":65.2,"f":0.26},{"p":"N","c":12,"t":66.2,"f":0.34},{"p":"N","c":12,"t":67.2,"f":0.42},{"p":"N","c":12,"t":68.2,"f":0.5},{"p":"N","c":12,"t":69.2,"f":0.6},{"p":"N","c":12,"t":70.2,"f":0.7},{"p":"N","c":12,"t":71.2,"f":0.8},{"p":"N","c":12,"t":72.2,"f":0.89},{"p":"N","c":12,"t":73.2,"f":0.96},{"p":"N","c":12,"t":74.2,"f":1},{"p":"N","c":12,"t":75.2,"f":0.99},{"p":"N","c":12,"t":76.2,"f":0.965},{"p":"N","c":12,"t":77.2,"f":0.92},{"p":"N","c":12,"t":78.2,"f":0.86},{"p":"N","c":12,"t":79.2,"f":0.8}
],
"arrows":[{"p":"T","t":69.3,"t2":80.2,"f":0.112,"f2":0.112},{"p":"T","t":77.3,"t2":80.2,"f":0.134,"f2":0.112},{"p":"S","t":73.6,"t2":84.5,"f":0.114,"f2":0.114},{"p":"S","t":81.5,"t2":84.5,"f":0.134,"f2":0.114},{"p":"N","t":68.7,"t2":79.6,"f":0.09,"f2":0.09},{"p":"N","t":77.6,"t2":79.6,"f":0.112,"f2":0.09}],
"labels":[{"p":"T","t":79.7,"f":0.031,"label":"TMAO"},{"p":"S","t":85,"f":0.033,"label":"Sucrose"},{"p":"N","t":80.6,"f":0.033,"label":"Na₂SO₄"}],
"mid":[
{"p":"T","x":0,"y":56.7,"e":0.15},{"p":"T","x":0.175,"y":57.0,"e":0.2},{"p":"T","x":0.35,"y":57.25,"e":0.6},{"p":"T","x":0.7,"y":58.35,"e":0.8},{"p":"T","x":1.05,"y":59.85,"e":0.95},{"p":"T","x":1.4,"y":61.0,"e":0.95},{"p":"T","x":1.75,"y":62.8,"e":0.9},{"p":"T","x":2.1,"y":64.4,"e":1.1},{"p":"T","x":2.45,"y":65.3,"e":0.72},{"p":"T","x":2.8,"y":66.5,"e":0.58},{"p":"T","x":3.15,"y":67.2,"e":0.6},{"p":"T","x":3.5,"y":68.15,"e":0.43},
{"p":"S","x":0,"y":57.5,"e":0.72},{"p":"S","x":0.1,"y":58.2,"e":0.1},{"p":"S","x":0.2,"y":59.0,"e":0.15},{"p":"S","x":0.4,"y":60.5,"e":0.46},{"p":"S","x":0.6,"y":62.2,"e":0.6},{"p":"S","x":0.8,"y":64.25,"e":0.5},{"p":"S","x":1.0,"y":65.75,"e":0.15},{"p":"S","x":1.2,"y":67.3,"e":0.52},{"p":"S","x":1.4,"y":69.7,"e":0.34},{"p":"S","x":1.6,"y":71.6,"e":0.78},{"p":"S","x":1.8,"y":73.3,"e":0.15},{"p":"S","x":2.0,"y":75.6,"e":0.28},
{"p":"N","x":0,"y":57.4,"e":0.65},{"p":"N","x":0.04,"y":58.4,"e":1.2},{"p":"N","x":0.08,"y":59.0,"e":0.65},{"p":"N","x":0.16,"y":60.2,"e":0.6},{"p":"N","x":0.24,"y":61.67,"e":0.58},{"p":"N","x":0.32,"y":63.15,"e":0.15},{"p":"N","x":0.4,"y":64.0,"e":0.15},{"p":"N","x":0.48,"y":65.2,"e":0.38},{"p":"N","x":0.56,"y":66.7,"e":0.63},{"p":"N","x":0.64,"y":68.4,"e":0.9},{"p":"N","x":0.72,"y":69.1,"e":0.57},{"p":"N","x":0.8,"y":70.75,"e":0.8}
],
"fit":[{"p":"T","x":0,"y":56.6},{"p":"T","x":3.5,"y":68.5},{"p":"S","x":0,"y":57.1},{"p":"S","x":2.0,"y":74.9},{"p":"N","x":0,"y":57.2},{"p":"N","x":0.8,"y":70.6}]
},
"vconcat":[
{"title":{"text":"A","fontSize":39,"dx":-103,"offset":-15},
 "bounds":"flush","spacing":26,
 "hconcat":[
  {"width":202,"height":270,
   "encoding":{
    "x":{"field":"t","type":"quantitative","scale":{"domain":[40,80],"nice":false,"zero":false},
         "axis":{"title":null,"format":"d","values":[40,45,50,55,60,65,70,75,80],"labelExpr":"datum.value % 10 == 0 ? datum.label : ' '","tickSize":{"condition":{"test":"datum.value % 10 == 0","value":7},"value":4}}},
    "y":{"field":"f","type":"quantitative","scale":{"domain":[0,1.05],"nice":false,"zero":false},
         "axis":{"title":"RFU","titlePadding":10,"format":".1f","values":[0,0.1,0.2,0.3,0.4,0.5,0.6,0.7,0.8,0.9,1],"labelExpr":"abs(datum.value*5-round(datum.value*5))<0.01 ? datum.label : ' '","tickSize":{"condition":{"test":"abs(datum.value*5-round(datum.value*5))<0.01","value":7},"value":4}}}},
   "layer":[
    {"data":{"name":"melt"},"transform":[{"filter":"datum.p=='T'"}],
     "mark":{"type":"line","interpolate":"monotone","color":"black","strokeWidth":1.1},
     "encoding":{"detail":{"field":"c","type":"nominal"}}},
    {"data":{"name":"melt"},"transform":[{"filter":"datum.p=='T'"}],
     "mark":{"type":"point","shape":"circle","size":12,"fill":"white","stroke":"#222","strokeWidth":0.8,"opacity":1}},
    {"data":{"name":"arrows"},"transform":[{"filter":"datum.p=='T'"}],
     "mark":{"type":"rule","color":"black","strokeWidth":2},
     "encoding":{"x2":{"field":"t2"},"y2":{"field":"f2"}}},
    {"data":{"name":"labels"},"transform":[{"filter":"datum.p=='T'"}],
     "mark":{"type":"text","align":"right","baseline":"alphabetic","fontSize":16,"fontWeight":"bold","font":"Liberation Sans","color":"black"},
     "encoding":{"text":{"field":"label"}}}
   ]},
  {"width":202,"height":270,
   "encoding":{
    "x":{"field":"t","type":"quantitative","scale":{"domain":[45,85],"nice":false,"zero":false},
         "axis":{"title":"Temperature (°C)","titlePadding":6,"format":"d","values":[45,50,55,60,65,70,75,80,85],"labelExpr":"datum.value % 10 == 0 ? datum.label : ' '","tickSize":{"condition":{"test":"datum.value % 10 == 0","value":7},"value":4}}},
    "y":{"field":"f","type":"quantitative","scale":{"domain":[0,1.05],"nice":false,"zero":false},"axis":null}},
   "layer":[
    {"data":{"name":"melt"},"transform":[{"filter":"datum.p=='S'"}],
     "mark":{"type":"line","interpolate":"monotone","color":"black","strokeWidth":1.1},
     "encoding":{"detail":{"field":"c","type":"nominal"}}},
    {"data":{"name":"melt"},"transform":[{"filter":"datum.p=='S'"}],
     "mark":{"type":"point","shape":"circle","size":12,"fill":"white","stroke":"#222","strokeWidth":0.8,"opacity":1}},
    {"data":{"name":"arrows"},"transform":[{"filter":"datum.p=='S'"}],
     "mark":{"type":"rule","color":"black","strokeWidth":2},
     "encoding":{"x2":{"field":"t2"},"y2":{"field":"f2"}}},
    {"data":{"name":"labels"},"transform":[{"filter":"datum.p=='S'"}],
     "mark":{"type":"text","align":"right","baseline":"alphabetic","fontSize":16,"fontWeight":"bold","font":"Liberation Sans","color":"black"},
     "encoding":{"text":{"field":"label"}}}
   ]},
  {"width":203,"height":270,
   "encoding":{
    "x":{"field":"t","type":"quantitative","scale":{"domain":[40,80],"nice":false,"zero":false},
         "axis":{"title":null,"format":"d","values":[40,45,50,55,60,65,70,75,80],"labelExpr":"datum.value % 10 == 0 ? datum.label : ' '","tickSize":{"condition":{"test":"datum.value % 10 == 0","value":7},"value":4}}},
    "y":{"field":"f","type":"quantitative","scale":{"domain":[0,1.05],"nice":false,"zero":false},"axis":null}},
   "layer":[
    {"data":{"name":"melt"},"transform":[{"filter":"datum.p=='N'"}],
     "mark":{"type":"line","interpolate":"monotone","color":"black","strokeWidth":1.1},
     "encoding":{"detail":{"field":"c","type":"nominal"}}},
    {"data":{"name":"melt"},"transform":[{"filter":"datum.p=='N'"}],
     "mark":{"type":"point","shape":"circle","size":12,"fill":"white","stroke":"#222","strokeWidth":0.8,"opacity":1}},
    {"data":{"name":"arrows"},"transform":[{"filter":"datum.p=='N'"}],
     "mark":{"type":"rule","color":"black","strokeWidth":2},
     "encoding":{"x2":{"field":"t2"},"y2":{"field":"f2"}}},
    {"data":{"name":"labels"},"transform":[{"filter":"datum.p=='N'"}],
     "mark":{"type":"text","align":"right","baseline":"alphabetic","fontSize":16,"fontWeight":"bold","font":"Liberation Sans","color":"black"},
     "encoding":{"text":{"field":"label"}}}
   ]}
 ]},
{"title":{"text":"B","fontSize":33,"dx":-103,"offset":-5},
 "bounds":"flush","spacing":28,
 "hconcat":[
  {"width":202,"height":271,
   "encoding":{
    "x":{"field":"x","type":"quantitative","scale":{"domain":[0,4],"nice":false,"zero":false},
         "axis":{"title":"[TMAO] M","titlePadding":6,"format":"d","values":[0,0.5,1,1.5,2,2.5,3,3.5,4],"labelExpr":"datum.value % 1 == 0 ? datum.label : ' '","tickSize":{"condition":{"test":"datum.value % 1 == 0","value":7},"value":4}}},
    "y":{"field":"y","type":"quantitative","scale":{"domain":[55,80],"nice":false,"zero":false},
         "axis":{"title":"Transition midpoint (°C)","titlePadding":8,"format":"d","values":[55,57.5,60,62.5,65,67.5,70,72.5,75,77.5,80],"labelExpr":"datum.value % 5 == 0 ? datum.label : ' '","tickSize":{"condition":{"test":"datum.value % 5 == 0","value":7},"value":4}}}},
   "layer":[
    {"data":{"name":"fit"},"transform":[{"filter":"datum.p=='T'"}],
     "mark":{"type":"line","color":"black","strokeWidth":2.8}},
    {"data":{"name":"mid"},"transform":[{"filter":"datum.p=='T'"}],
     "mark":{"type":"errorbar","ticks":{"size":9,"thickness":1.5,"color":"black"},"rule":{"strokeWidth":1.5,"color":"black"}},
     "encoding":{"yError":{"field":"e"}}},
    {"data":{"name":"mid"},"transform":[{"filter":"datum.p=='T'"}],
     "mark":{"type":"point","shape":"circle","filled":true,"size":60,"color":"black","opacity":1}}
   ]},
  {"width":204,"height":271,
   "encoding":{
    "x":{"field":"x","type":"quantitative","scale":{"domain":[0,2.5],"nice":false,"zero":false},
         "axis":{"title":"[Sucrose] M","titlePadding":6,"format":".1f","values":[0,0.25,0.5,0.75,1,1.25,1.5,1.75,2,2.25,2.5],"labelExpr":"abs(datum.value*2-round(datum.value*2))<0.01 ? datum.label : ' '","tickSize":{"condition":{"test":"abs(datum.value*2-round(datum.value*2))<0.01","value":7},"value":4}}},
    "y":{"field":"y","type":"quantitative","scale":{"domain":[55,80],"nice":false,"zero":false},"axis":null}},
   "layer":[
    {"data":{"name":"fit"},"transform":[{"filter":"datum.p=='S'"}],
     "mark":{"type":"line","color":"black","strokeWidth":2.8}},
    {"data":{"name":"mid"},"transform":[{"filter":"datum.p=='S'"}],
     "mark":{"type":"errorbar","ticks":{"size":9,"thickness":1.5,"color":"black"},"rule":{"strokeWidth":1.5,"color":"black"}},
     "encoding":{"yError":{"field":"e"}}},
    {"data":{"name":"mid"},"transform":[{"filter":"datum.p=='S'"}],
     "mark":{"type":"point","shape":"circle","filled":true,"size":60,"color":"black","opacity":1}}
   ]},
  {"width":204,"height":271,
   "encoding":{
    "x":{"field":"x","type":"quantitative","scale":{"domain":[0,1],"nice":false,"zero":false},
         "axis":{"title":"[Na₂SO₄] M","titlePadding":6,"format":".1f","values":[0,0.1,0.2,0.3,0.4,0.5,0.6,0.7,0.8,0.9,1],"labelExpr":"abs(datum.value*5-round(datum.value*5))<0.01 ? datum.label : ' '","tickSize":{"condition":{"test":"abs(datum.value*5-round(datum.value*5))<0.01","value":7},"value":4}}},
    "y":{"field":"y","type":"quantitative","scale":{"domain":[55,80],"nice":false,"zero":false},"axis":null}},
   "layer":[
    {"data":{"name":"fit"},"transform":[{"filter":"datum.p=='N'"}],
     "mark":{"type":"line","color":"black","strokeWidth":2.8}},
    {"data":{"name":"mid"},"transform":[{"filter":"datum.p=='N'"}],
     "mark":{"type":"errorbar","ticks":{"size":9,"thickness":1.5,"color":"black"},"rule":{"strokeWidth":1.5,"color":"black"}},
     "encoding":{"yError":{"field":"e"}}},
    {"data":{"name":"mid"},"transform":[{"filter":"datum.p=='N'"}],
     "mark":{"type":"point","shape":"circle","filled":true,"size":60,"color":"black","opacity":1}}
   ]}
 ]}
]
}
